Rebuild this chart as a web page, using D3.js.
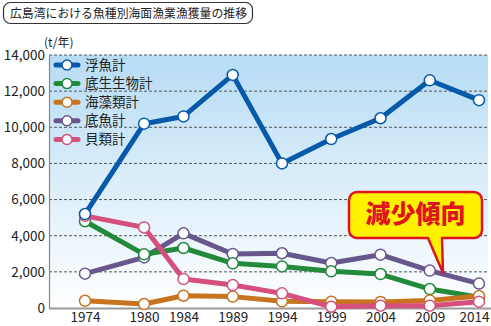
<!DOCTYPE html>
<html>
<head>
<meta charset="utf-8">
<script src="https://cdn.jsdelivr.net/npm/d3@7"></script>
<style>
  html, body { margin: 0; padding: 0; background: #fff; }
  svg { display: block; font-family: "Noto Sans CJK JP", "Noto Sans", sans-serif; }
</style>
</head>
<body>
<svg id="chart" width="491" height="326"></svg>
<script>
// 広島湾の魚種別海面漁業漁獲量（t/年）
const years = [1974, 1980, 1984, 1989, 1994, 1999, 2004, 2009, 2014];
const seriesNames = ["浮魚計", "底生生物計", "海藻類計", "底魚計", "貝類計"];
const ukiuo   = [5200, 10200, 10600, 12900, 8000, 9350, 10500, 12600, 11500];
const teisei  = [4800, 2970, 3320, 2470, 2300, 2030, 1880, 1050, 590];
const kaiso   = [400, 220, 680, 630, 370, 350, 330, 420, 660];
const teigyo  = [1900, 2800, 4130, 2990, 3030, 2490, 2950, 2070, 1350];
const kairui  = [5100, 4460, 1600, 1270, 810, 70, 130, 130, 350];
const yTicks  = [0, 2000, 4000, 6000, 8000, 10000, 12000, 14000];
const colors  = ["#0759aa", "#238a3c", "#c8731f", "#67578d", "#d5507c"];
const allSeries = [ukiuo, teisei, kaiso, teigyo, kairui];

const svg = d3.select("#chart");
const plot = { left: 49, right: 488, top: 55, bottom: 308 };

const x = d3.scaleLinear().domain([1974, 2014]).range([85, 479]);
const y = d3.scaleLinear().domain([0, 14000]).range([plot.bottom, plot.top]);

// background gradient
const defs = svg.append("defs");
const grad = defs.append("linearGradient").attr("id", "bg").attr("x1", 0).attr("y1", 0).attr("x2", 0).attr("y2", 1);
grad.append("stop").attr("offset", "0%").attr("stop-color", "#b6dcf4");
grad.append("stop").attr("offset", "100%").attr("stop-color", "#ffffff");
svg.append("rect")
  .attr("x", plot.left).attr("y", plot.top)
  .attr("width", plot.right - plot.left).attr("height", plot.bottom - plot.top)
  .attr("fill", "url(#bg)");

// title box
svg.append("rect").attr("x", 3.5).attr("y", 2.5).attr("width", 249).attr("height", 21)
  .attr("rx", 7).attr("fill", "#fff").attr("stroke", "#333").attr("stroke-width", 1.2);
svg.append("text").attr("x", 10).attr("y", 18).attr("font-size", 12).attr("fill", "#222")
  .attr("textLength", 237).attr("lengthAdjust", "spacingAndGlyphs")
  .text("広島湾における魚種別海面漁業漁獲量の推移");

// unit label
svg.append("text").attr("x", 44).attr("y", 47).attr("font-size", 12).attr("fill", "#222").text("(t/年)");

// gridlines
svg.append("g").selectAll("line").data(yTicks.filter(d => d > 0)).join("line")
  .attr("x1", plot.left).attr("x2", plot.right)
  .attr("y1", d => y(d)).attr("y2", d => y(d))
  .attr("stroke", "#555").attr("stroke-width", 1).attr("stroke-dasharray", "3,2");

// y axis
const yAxis = svg.append("g").attr("transform", `translate(${plot.left},0)`)
  .call(d3.axisLeft(y).tickValues(yTicks).tickSize(0).tickPadding(4).tickFormat(d3.format(",")));
yAxis.select(".domain").attr("stroke", "#888").attr("stroke-width", 1.2);
yAxis.selectAll("text").attr("font-size", 13.5).attr("fill", "#222")
  .attr("font-family", "'Noto Sans CJK JP', sans-serif");

// x axis
const xAxis = svg.append("g").attr("transform", `translate(0,${plot.bottom})`)
  .call(d3.axisBottom(x).tickValues(years).tickSize(0).tickPadding(4).tickFormat(d3.format("d")));
xAxis.select(".domain").remove();
xAxis.selectAll("text").attr("font-size", 13.5).attr("fill", "#222")
  .attr("font-family", "'Noto Sans CJK JP', sans-serif");
// keep the last year label inside the frame
xAxis.selectAll(".tick").filter(d => d === years[years.length - 1]).select("text").attr("dx", -5);
svg.append("line").attr("x1", plot.left).attr("x2", 491).attr("y1", plot.bottom + 0.5).attr("y2", plot.bottom + 0.5)
  .attr("stroke", "#999").attr("stroke-width", 2);

// series lines and markers (drawing order keeps 浮魚計 on top)
const line = d3.line().x((d, i) => x(years[i])).y(d => y(d));
const drawOrder = [3, 1, 2, 4, 0];
drawOrder.forEach(si => {
  const g = svg.append("g");
  g.append("path").datum(allSeries[si]).attr("d", line)
    .attr("fill", "none").attr("stroke", colors[si]).attr("stroke-width", 5)
    .attr("stroke-linejoin", "round");
  g.selectAll("circle").data(allSeries[si]).join("circle")
    .attr("cx", (d, i) => x(years[i])).attr("cy", d => y(d)).attr("r", 5.5)
    .attr("fill", "#fff").attr("stroke", colors[si]).attr("stroke-width", 1.5);
});

// legend
const legend = svg.append("g");
seriesNames.forEach((name, i) => {
  const ly = 65 + i * 18.6;
  legend.append("line").attr("x1", 56).attr("x2", 78).attr("y1", ly).attr("y2", ly)
    .attr("stroke", colors[i]).attr("stroke-width", 5).attr("stroke-linecap", "round");
  legend.append("circle").attr("cx", 67).attr("cy", ly).attr("r", 5)
    .attr("fill", "#fff").attr("stroke", colors[i]).attr("stroke-width", 1.5);
  legend.append("text").attr("x", 85).attr("y", ly + 4.5).attr("font-size", 13.5).attr("fill", "#222").text(name);
});

// callout
const callout = svg.append("g");
const bx = 349, by = 192, bw = 133, bh = 46, r = 8;
const tail = [[428, by + bh], [443, 273], [442, by + bh]];
const path = d3.path();
path.moveTo(bx + r, by);
path.lineTo(bx + bw - r, by);
path.arcTo(bx + bw, by, bx + bw, by + r, r);
path.lineTo(bx + bw, by + bh - r);
path.arcTo(bx + bw, by + bh, bx + bw - r, by + bh, r);
path.lineTo(tail[2][0], tail[2][1]);
path.lineTo(tail[1][0], tail[1][1]);
path.lineTo(tail[0][0], tail[0][1]);
path.lineTo(bx + r, by + bh);
path.arcTo(bx, by + bh, bx, by + bh - r, r);
path.lineTo(bx, by + r);
path.arcTo(bx, by, bx + r, by, r);
path.closePath();
callout.append("path").attr("d", path.toString())
  .attr("fill", "#fff200").attr("stroke", "#e0141e").attr("stroke-width", 2.5).attr("stroke-linejoin", "round");
callout.append("text").attr("x", bx + bw / 2).attr("y", by + 31).attr("text-anchor", "middle")
  .attr("font-size", 25).attr("font-weight", 900).attr("fill", "#e0141e").text("減少傾向");
</script>
</body>
</html>
